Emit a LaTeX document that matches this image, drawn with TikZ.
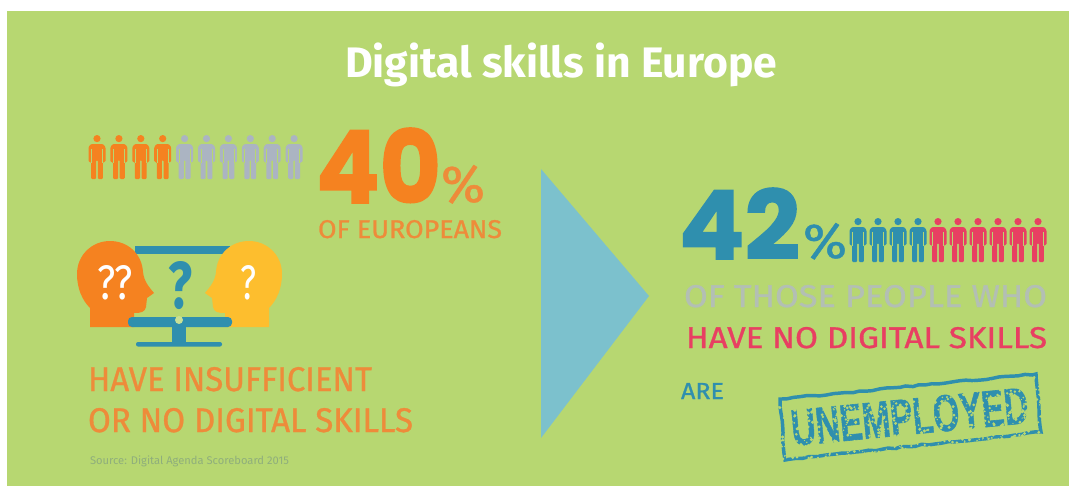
\documentclass[tikz,border=0pt]{standalone}
\usepackage{graphicx}
\usepackage{fontspec}
\setmainfont{Fira Sans}
\newfontfamily\heavyfont[BoldFeatures={FakeBold=1.6}]{Poppins}
\newfontfamily\medfont[FakeBold=0.9]{Fira Sans}
\newfontfamily\stampfont[FakeBold=1.2]{Liberation Sans Bold}
\usetikzlibrary{decorations.pathmorphing}
\definecolor{bgg}{HTML}{B7D771}
\definecolor{eo}{HTML}{F58220}
\definecolor{eot}{HTML}{EE8B3A}
\definecolor{eg}{HTML}{ABB4C2}
\definecolor{egt}{HTML}{B3BFB4}
\definecolor{eb}{HTML}{2F8FAE}
\definecolor{er}{HTML}{E83F62}
\definecolor{ey}{HTML}{FDBE2E}
\definecolor{etri}{HTML}{7CC1CD}
\definecolor{esrc}{HTML}{8FAE7C}
\newdimen\pxu \pxu=0.75pt
% width, cap height, text
\newcommand{\fitcaps}[3]{\resizebox{#1\pxu}{#2\pxu}{#3}}
\newcommand{\fitw}[2]{\resizebox{#1\pxu}{!}{#2}}
\newcommand{\headpath}{(90,327) -- (90,308) .. controls (82,300) and (77,288) .. (77,274) .. controls (77,255) and (92,241) .. (110,241) .. controls (128,241) and (142,254) .. (143,272) .. controls (144,282) and (150,288) .. (154,293) -- (147,298) -- (146,307) .. controls (145,312) and (141,313) .. (134,313) -- (134,327) -- cycle}
\tikzset{
  x=0.75pt,y=-0.75pt,
  lab/.style={inner sep=0pt,outer sep=0pt,anchor=base west},
  midq/.style={inner sep=0pt,outer sep=0pt,anchor=base},
  person/.pic={
    \fill (0,3.6) circle (3.6);
    \fill[rounded corners=0.8] (-8.5,12) -- (-6,9) -- (6,9) -- (8.5,12) -- (8.5,27) -- (5.9,27) -- (5.9,44) -- (0.8,44) -- (0.8,25) -- (-0.8,25) -- (-0.8,44) -- (-5.9,44) -- (-5.9,27) -- (-8.5,27) -- cycle;
    \fill[bgg] (-5.9,14) rectangle (-5.1,27.5);
    \fill[bgg] (5.1,14) rectangle (5.9,27.5);
  },
}
\begin{document}
\begin{tikzpicture}
\useasboundingbox (0,0) rectangle (1069,486);
\fill[white] (0,0) rectangle (1069,486);
\fill[bgg] (7,11) rectangle (1069,486);

% title
\node[lab,text=white,font=\bfseries] (title) at (345,77) {\fitw{432}{Digital skills in Europe}};

% left people row
\foreach \i/\c in {0/eo,1/eo,2/eo,3/eo,4/eg,5/eg,6/eg,7/eg,8/eg,9/eg}{
  \path pic[fill=\c] at ({97+21.9*\i},135) {person};
}

% 40 %
\node[lab,text=eo] (forty) at (316,203) {\heavyfont\bfseries\fitcaps{125}{75}{40}};
\node[lab,text=eot] (pctl) at (441,202) {\medfont\fitcaps{44}{37}{\%}};
\node[lab,text=eot] (ofeu) at (318,238) {\medfont\fitcaps{184}{18}{OF EUROPEANS}};

% monitor and heads
\fill[eb] (135,246) rectangle (230,254);
\fill[eo] \headpath;
\begin{scope}[shift={(359,0)},xscale=-1]
  \fill[ey] \headpath;
\end{scope}
\node[midq,text=eb,font=\bfseries] (qm) at (181,308) {\fitcaps{24}{47}{?}};
\node[midq,text=white] (q2) at (115,299) {\fitcaps{35}{34}{??}};
\node[midq,text=white] (q1) at (248,299) {\fitcaps{16}{34}{?}};
\fill[eb] (172,325) rectangle (186,344);
\fill[eb,rounded corners=1.5] (136,342) rectangle (222,346.5);
\fill[eb,rounded corners=3] (128,317) rectangle (232,327);
\fill[bgg!75!white] (179,320) circle (4);

\node[lab,text=eot] (ins) at (88,391) {\medfont\fitcaps{284}{24}{HAVE INSUFFICIENT}};
\node[lab,text=eot] (orno) at (88,432) {\medfont\fitcaps{325}{24}{OR NO DIGITAL SKILLS}};
\node[lab,text=esrc] (src) at (90,464) {\fitw{199}{Source: Digital Agenda Scoreboard 2015}};

% triangle
\fill[etri] (541,169) -- (649,296) -- (541,438) -- cycle;

% 42 %
\node[lab,text=eb] (ftwo) at (679,259) {\heavyfont\bfseries\fitcaps{121}{71}{42}};
\node[lab,text=eb] (pctr) at (803,258) {\medfont\fitcaps{44}{35}{\%}};
\foreach \i/\c in {0/eb,1/eb,2/eb,3/eb,4/er,5/er,6/er,7/er,8/er,9/er}{
  \begin{scope}[shift={({858+20*\i},218)},yscale=0.91,xscale=0.95]
    \path pic[fill=\c] at (0,0) {person};
  \end{scope}
}

\node[lab,text=egt] (those) at (684,307) {\medfont\fitcaps{363}{22}{OF THOSE PEOPLE WHO}};
\node[lab,text=er] (hno) at (686,348) {\medfont\fitcaps{361}{21}{HAVE NO DIGITAL SKILLS}};
\node[lab,text=eb] (are) at (681,399) {\medfont\fitcaps{43}{16}{ARE}};

% stamp
\coordinate (s1) at (780,399);
\coordinate (s2) at (1036,374);
\coordinate (s3) at (1041,432);
\coordinate (s4) at (785,460);
\draw[eb,line width=2.6pt,decorate,decoration={random steps,segment length=5pt,amplitude=0.6pt}] (s1) -- (s2) -- (s3) -- (s4) -- cycle;
\node[lab,text=eb,rotate=5.6] (unemp) at (793,446) {\stampfont\fitcaps{238}{36}{UNEMPLOYED}};
\pgfmathsetseed{4711}
\foreach \k in {1,...,900}{
  \pgfmathsetmacro{\sx}{778+265*rnd}
  \pgfmathsetmacro{\sy}{462-(\sx-778)*0.098-60*rnd}
  \pgfmathsetmacro{\sr}{0.5+1.3*rnd}
  \fill[bgg] (\sx,\sy) circle (\sr);
}
\end{tikzpicture}
\end{document}
